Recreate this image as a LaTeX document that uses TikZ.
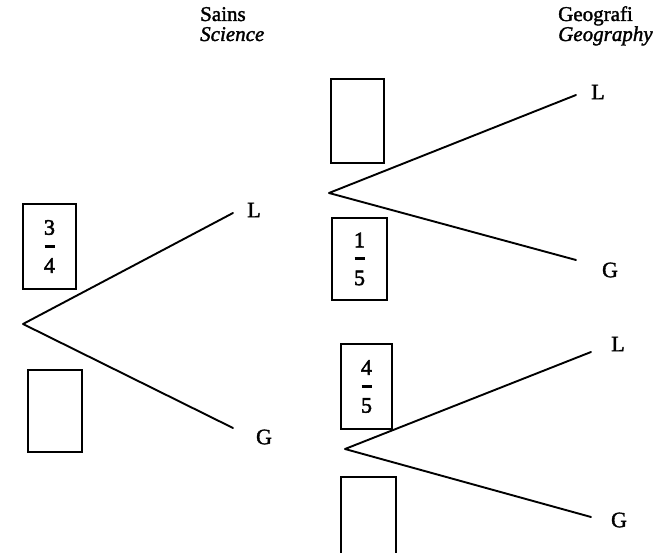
\documentclass[tikz,border=0pt]{standalone}
\usepackage{fontspec}
\setmainfont{Liberation Serif}
\newfontfamily\heavyserif[FakeBold=1.6]{Liberation Serif}
\newfontfamily\digitserif[FakeBold=2.4]{Liberation Serif}
\usetikzlibrary{calc}
\tikzset{
  branch/.style={line width=1.9pt, line cap=round, line join=round},
  probbox/.style={draw, line width=2.1pt, inner sep=0pt},
  leaf/.style={font=\heavyserif\fontsize{22}{24}\selectfont, inner sep=0pt},
  head/.style={font=\heavyserif\fontsize{21}{25}\selectfont, anchor=base west, inner sep=0pt, align=left},
  digit/.style={font=\digitserif\fontsize{22}{24}\selectfont, inner sep=0pt}
}
% a stacked fraction placed inside a box node
\newcommand\probfrac[3]{%
  \node[digit] at ($(#1)+(0,-19)$) {#2};
  \draw[line width=3pt] ($(#1)+(-5,0)$) -- ($(#1)+(5,0)$);
  \node[digit] at ($(#1)+(0,19)$) {#3};
}
\begin{document}
\begin{tikzpicture}[x=1pt, y=-1pt]
  \useasboundingbox (0,0) rectangle (654,553);

  % column headings
  \node[head] (sains)   at (200,21) {Sains};
  \node[head] (science) at (200,41) {\itshape Science};
  \node[head] (geo)     at (558,21) {Geografi};
  \node[head] (geog)    at (558,41) {\itshape Geography};

  % first stage: Science
  \coordinate (r1) at (23,324);
  \coordinate (e1L) at (233,213);
  \coordinate (e1G) at (233,428);
  \node[leaf] (s1L) at (254,210) {L};
  \node[leaf] (s1G) at (264,437) {G};
  \draw[branch] (e1L) -- (r1) -- (e1G);

  % second stage after L
  \coordinate (r2) at (329,193);
  \coordinate (e2L) at (576,95);
  \coordinate (e2G) at (576,260);
  \node[leaf] (s2L) at (598,92) {L};
  \node[leaf] (s2G) at (610,270) {G};
  \draw[branch] (e2L) -- (r2) -- (e2G);

  % second stage after G
  \coordinate (r3) at (345,449);
  \coordinate (e3L) at (591,352);
  \coordinate (e3G) at (591,517);
  \node[leaf] (s3L) at (618,344) {L};
  \node[leaf] (s3G) at (619,520) {G};
  \draw[branch] (e3L) -- (r3) -- (e3G);

  % probability boxes
  \node[probbox, minimum width=53pt, minimum height=85pt] (b1) at (49.5,246.5) {};
  \probfrac{b1}{3}{4}
  \node[probbox, minimum width=54pt, minimum height=82pt] (b2) at (55,411) {};

  \node[probbox, minimum width=53pt, minimum height=84pt] (b3) at (357.5,121) {};
  \node[probbox, minimum width=55pt, minimum height=82pt] (b4) at (359.5,259) {};
  \probfrac{b4}{1}{5}

  \node[probbox, minimum width=51pt, minimum height=85pt] (b5) at (366.5,386.5) {};
  \probfrac{b5}{4}{5}
  \node[probbox, minimum width=55pt, minimum height=86pt] (b6) at (368.5,520) {};
\end{tikzpicture}
\end{document}
